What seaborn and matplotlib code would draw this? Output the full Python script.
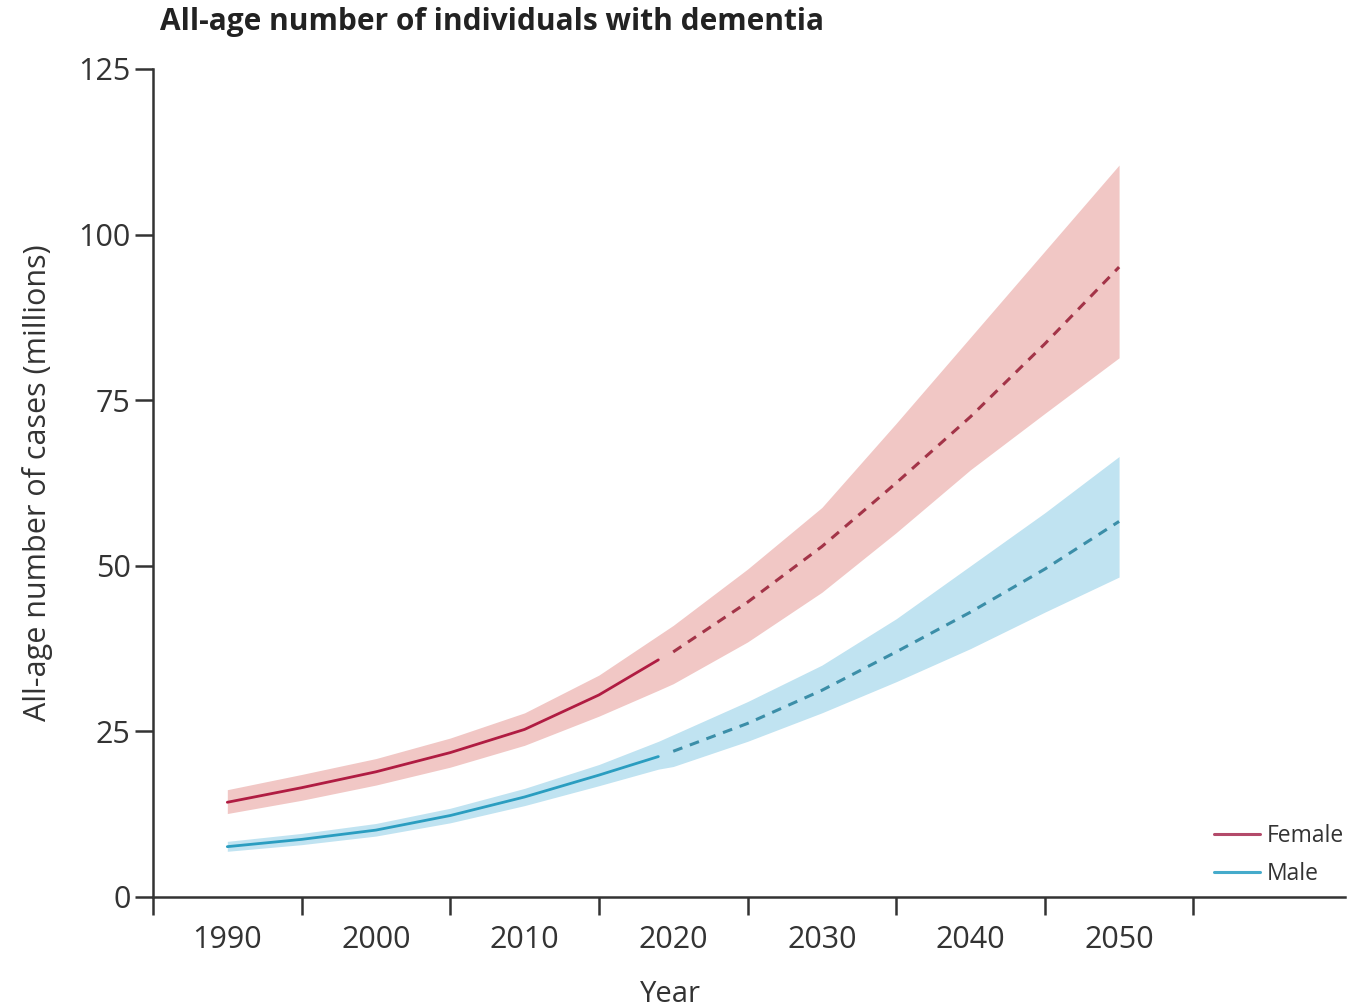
import numpy as np
import pandas as pd
import matplotlib
matplotlib.use("Agg")
import matplotlib.pyplot as plt
import seaborn as sns
from matplotlib.lines import Line2D

# Estimated (1990-2019) and forecast (2020-2050) dementia cases, millions
obs_years = [1990, 1995, 2000, 2005, 2010, 2015, 2019]
female_obs = [14.3, 16.5, 18.9, 21.8, 25.3, 30.5, 35.8]
female_obs_hi = [16.2, 18.5, 20.9, 24.0, 27.8, 33.5, 39.5]
female_obs_lo = [12.6, 14.6, 16.9, 19.6, 22.9, 27.3, 31.2]
male_obs = [7.6, 8.7, 10.1, 12.3, 15.1, 18.4, 21.2]
male_obs_hi = [8.4, 9.6, 11.1, 13.4, 16.4, 20.0, 23.5]
male_obs_lo = [6.9, 7.9, 9.2, 11.2, 13.8, 16.8, 19.3]

fc_years = [2020, 2025, 2030, 2035, 2040, 2045, 2050]
female_fc = [37.0, 44.5, 52.9, 62.5, 72.5, 83.5, 95.1]
female_fc_hi = [41.0, 49.5, 58.8, 71.5, 84.5, 97.5, 110.5]
female_fc_lo = [32.2, 38.5, 46.0, 55.0, 64.5, 73.0, 81.4]
male_fc = [22.0, 26.2, 31.2, 37.0, 43.0, 49.5, 56.7]
male_fc_hi = [24.5, 29.5, 35.0, 42.0, 50.0, 58.0, 66.5]
male_fc_lo = [19.7, 23.5, 27.8, 32.5, 37.5, 43.0, 48.3]

year_labels = [1990, 2000, 2010, 2020, 2030, 2040, 2050]
y_ticks = [0, 25, 50, 75, 100, 125]

F_LINE, F_DASH, F_BAND, F_KEY = "#b01c42", "#a33448", "#f1c7c5", "#b34a6a"
M_LINE, M_DASH, M_BAND, M_KEY = "#2a9dc0", "#3b8ea8", "#c0e3f1", "#45abcb"
INK = "#333333"

sns.set_theme(style="white")
plt.rcParams["font.family"] = ["Open Sans", "DejaVu Sans"]

fig = plt.figure(figsize=(13.48, 10.07), dpi=100)
ax = fig.add_axes([153 / 1348, 1 - 897 / 1007, (1345 - 153) / 1348, (897 - 69) / 1007])

rows = []
for sex, yrs, mean, lo, hi, period in [
    ("Female", obs_years, female_obs, female_obs_lo, female_obs_hi, "obs"),
    ("Female", fc_years, female_fc, female_fc_lo, female_fc_hi, "fc"),
    ("Male", obs_years, male_obs, male_obs_lo, male_obs_hi, "obs"),
    ("Male", fc_years, male_fc, male_fc_lo, male_fc_hi, "fc"),
]:
    for y, m, l, h in zip(yrs, mean, lo, hi):
        rows.append(dict(sex=sex, year=y, cases=m, lo=l, hi=h, period=period))
df = pd.DataFrame(rows)

# Uncertainty bands, continuous across the whole period
for sex, col in [("Female", F_BAND), ("Male", M_BAND)]:
    d = df[df.sex == sex].sort_values("year")
    ax.fill_between(d.year, d.lo, d.hi, color=col, lw=0, zorder=1)

# Central estimates: solid for estimates, dashed for forecasts
for sex, solid, dash in [("Female", F_LINE, F_DASH), ("Male", M_LINE, M_DASH)]:
    d_obs = df[(df.sex == sex) & (df.period == "obs")]
    d_fc = df[(df.sex == sex) & (df.period == "fc")]
    sns.lineplot(data=d_obs, x="year", y="cases", color=solid, lw=2.0, ax=ax,
                 zorder=3, estimator=None)
    sns.lineplot(data=d_fc, x="year", y="cases", color=dash, lw=2.2, ax=ax,
                 zorder=3, estimator=None, dashes=False, linestyle=(0, (3.2, 2.6)))

ax.set_xlim(1985, 2065.2)
ax.set_ylim(0, 125)

for side in ["top", "right"]:
    ax.spines[side].set_visible(False)
for side in ["left", "bottom"]:
    ax.spines[side].set_color(INK)
    ax.spines[side].set_linewidth(1.8)

ax.set_yticks(y_ticks)
ax.tick_params(axis="y", which="major", length=13, width=1.8, color=INK,
               labelsize=22, labelcolor=INK, pad=3, left=True)

ax.set_xticks(year_labels)
ax.set_xticklabels([str(y) for y in year_labels])
ax.set_xticks([1985 + 10 * i for i in range(8)], minor=True)
ax.tick_params(axis="x", which="major", length=0, labelsize=22, labelcolor=INK, pad=20)
ax.tick_params(axis="x", which="minor", length=13, width=1.8, color=INK, bottom=True)

ax.set_xlabel("Year", fontsize=21, color=INK)
ax.xaxis.set_label_coords((670 - 153) / 1192, -0.100)
ax.set_ylabel("All-age number of cases (millions)", fontsize=22, color=INK)
ax.yaxis.set_label_coords(-0.084, 0.5)
ax.grid(False)

fig.text(160 / 1348, 1 - 22 / 1007, "All-age number of individuals with dementia",
         fontsize=21.5, fontweight="bold", color="#222222", va="center", ha="left")

handles = [Line2D([], [], color=F_KEY, lw=2.2), Line2D([], [], color=M_KEY, lw=2.2)]
leg = fig.legend(handles, ["Female", "Male"], loc="center left",
                 bbox_to_anchor=(1214 / 1348, 1 - 855 / 1007), frameon=False,
                 fontsize=16.5, handlelength=2.0, handletextpad=0.3, labelspacing=0.6,
                 borderaxespad=0, borderpad=0)
for t in leg.get_texts():
    t.set_color(INK)

fig.savefig("out.png", dpi=100, facecolor="white")
